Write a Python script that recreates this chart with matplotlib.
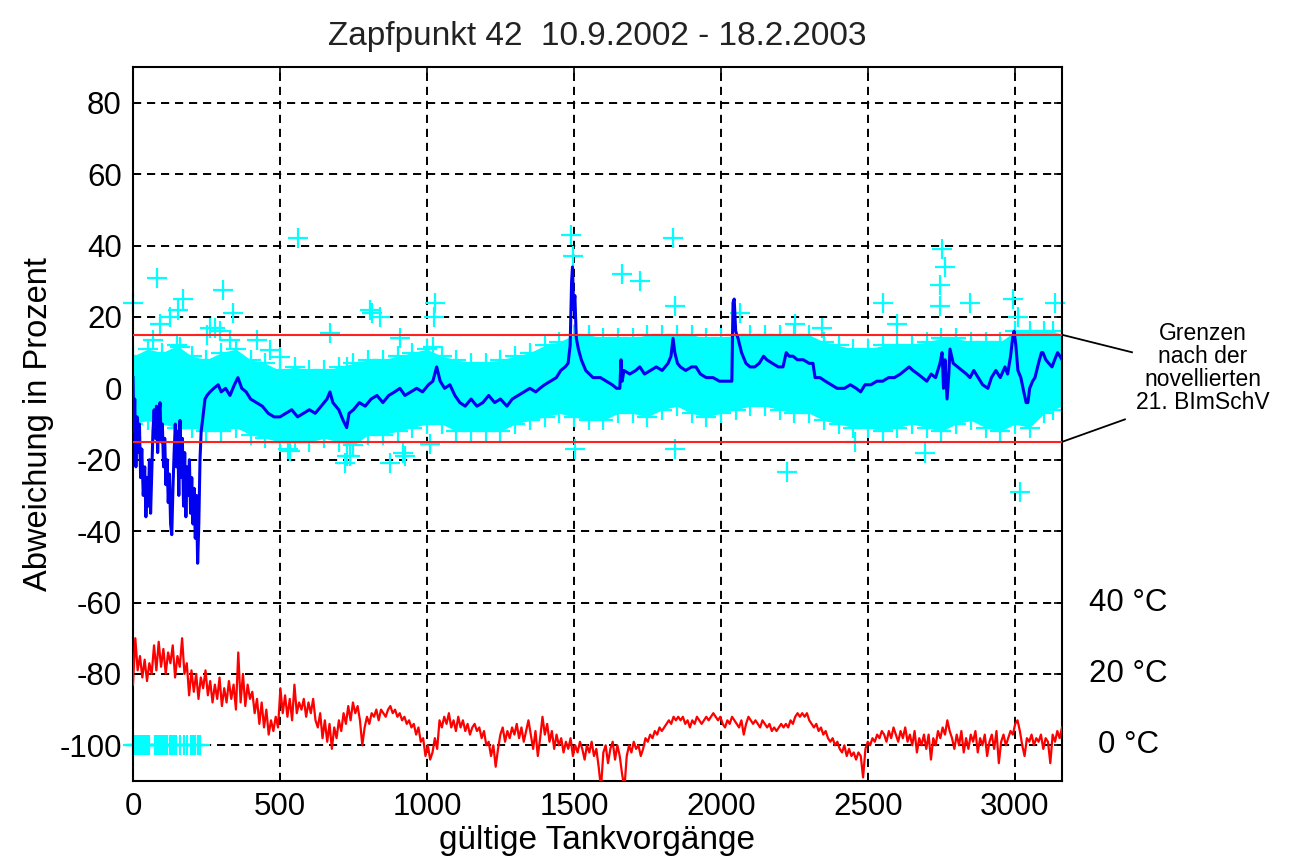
import numpy as np
import matplotlib
matplotlib.use("Agg")
import matplotlib.pyplot as plt

plt.rcParams['font.family'] = ['Liberation Sans', 'DejaVu Sans']
plt.rcParams['axes.unicode_minus'] = False

# running mean of the deviation (blue)
mean_x = [0, 3, 6, 10, 14, 18, 22, 26, 30, 35, 40, 44, 48, 52, 56, 60, 64, 68, 72, 76, 80, 84, 88, 92, 96,
          100, 104, 108, 112, 116, 120, 124, 128, 132, 136, 140, 144, 148, 152, 156, 160, 164, 168, 172, 176,
          180, 184, 188, 192, 196, 200, 204, 208, 212, 216, 220, 224, 228, 232, 238, 245, 252, 262, 275, 290,
          300, 315, 330, 345, 357, 370, 385, 400, 420, 440, 460, 480, 500, 520, 540, 560, 580, 600, 620, 640,
          660, 670, 680, 700, 715, 727, 735, 750, 770, 790, 810, 830, 850, 870, 890, 908, 925, 945, 965, 985,
          1005, 1020, 1033, 1045, 1060, 1078, 1095, 1112, 1130, 1150, 1170, 1190, 1210, 1230, 1250, 1272, 1290,
          1310, 1330, 1350, 1370, 1384, 1400, 1420, 1440, 1455, 1470, 1480, 1487, 1492, 1495, 1499, 1503, 1508,
          1515, 1525, 1540, 1565, 1590, 1610, 1630, 1645, 1656, 1660, 1664, 1670, 1690, 1710, 1724, 1740, 1760,
          1780, 1800, 1820, 1830, 1837, 1843, 1852, 1862, 1880, 1900, 1915, 1930, 1950, 1973, 1995, 2020, 2037,
          2041, 2045, 2050, 2058, 2070, 2085, 2099, 2115, 2130, 2145, 2156, 2175, 2195, 2211, 2222, 2232, 2245,
          2260, 2280, 2300, 2313, 2320, 2337, 2355, 2375, 2395, 2420, 2440, 2460, 2475, 2490, 2510, 2530, 2550,
          2570, 2590, 2610, 2625, 2640, 2653, 2670, 2685, 2700, 2715, 2730, 2745, 2752, 2757, 2762, 2769, 2775,
          2779, 2790, 2805, 2820, 2835, 2847, 2860, 2875, 2890, 2908, 2920, 2935, 2950, 2966, 2975, 2985, 2992,
          2997, 3003, 3010, 3020, 3030, 3038, 3044, 3050, 3060, 3068, 3080, 3090, 3095, 3105, 3115, 3126, 3135,
          3145, 3153, 3160]
mean_y = [3, -12, -3, -22, -8, -18, -10, -25, -17, -30, -22, -36, -25, -33, -20, -35, -24, -12, -6, -14, -5, -18,
          -8, -4, -15, -10, -22, -14, -27, -20, -32, -24, -38, -41, -28, -18, -10, -22, -12, -30, -9, -25, -14, -33,
          -18, -36, -22, -30, -20, -35, -25, -38, -28, -42, -30, -49, -38, -20, -12, -8, -3, -2, -1, 0, 1,
          -1, 0, -2, 1, 3, 0, -1, -3, -4, -5, -7, -8, -8, -7, -6, -8, -7, -6, -7, -5,
          -3, -1, -4, -6, -9, -11, -7, -6, -4, -5, -3, -2, -4, -2, -1, 0, -2, -1, 0, -1,
          1, 2, 6, 2, 0, 1, -2, -4, -5, -3, -5, -4, -2, -4, -3, -5, -3,
          -2, -1, 0, -1, 0, 1, 2, 3, 5, 6, 7, 12, 30, 34, 22, 26, 14,
          11, 8, 5, 3, 3, 2, 1, 0, 0, 8, 2, 5, 4, 5, 6, 4, 5,
          6, 5, 7, 9, 14, 10, 7, 6, 5, 6, 6, 4, 3, 3, 2, 2, 2,
          24, 25, 16, 14, 10, 7, 6, 6, 7, 9, 8, 7, 6, 6, 10, 9, 9,
          8, 8, 7, 7, 3, 3, 2, 1, 0, 0, 1, 0, -1, 1, 1, 2, 2,
          3, 3, 4, 5, 6, 5, 4, 3, 2, 4, 3, 7, 10, 0, 8, -3, 4,
          11, 7, 6, 5, 4, 3, 5, 3, 1, 0, 3, 5, 3, 6, 4, 9, 14,
          16, 12, 5, 3, -1, -4, -4, 0, 2, 3, 7, 10, 10, 8, 7, 6, 8,
          10, 9, 8]

# dense cloud of single values (cyan): upper / lower edge
band_x = [0, 50, 100, 150, 200, 250, 300, 350, 400, 450, 500, 550, 600, 650, 700, 750, 800, 850, 900, 950,
          1000, 1050, 1100, 1150, 1200, 1250, 1300, 1350, 1400, 1450, 1500, 1550, 1600, 1650, 1700, 1750,
          1800, 1850, 1900, 1950, 2000, 2050, 2100, 2150, 2200, 2250, 2300, 2350, 2400, 2450, 2500, 2550,
          2600, 2650, 2700, 2750, 2800, 2850, 2900, 2950, 3000, 3050, 3100, 3130, 3160]
band_hi = [9, 11, 10, 12, 9, 8, 10, 11, 8, 7, 5, 6, 5, 5, 6, 7, 8, 8, 9, 10,
           11, 9, 8, 7, 7, 8, 9, 10, 12, 13, 15, 15, 14, 14, 14, 15,
           15, 15, 15, 14, 14, 15, 15, 15, 15, 15, 15, 13, 12, 11, 11, 12,
           12, 12, 13, 14, 14, 13, 13, 13, 16, 16, 16, 16, 15]
band_lo = [-10, -9, -10, -11, -11, -12, -12, -11, -13, -14, -15, -15, -15, -14, -15, -16, -13, -13, -12, -11,
           -10, -10, -12, -12, -12, -12, -10, -9, -8, -7, -8, -9, -9, -7, -7, -8,
           -6, -5, -7, -8, -7, -6, -5, -5, -6, -7, -7, -9, -10, -11, -11, -12,
           -11, -10, -11, -12, -10, -9, -11, -12, -10, -11, -7, -6, -5]

# single outliers (cyan +)
out_x = [0, 82, 92, 126, 153, 170, 252, 279, 306, 340, 561, 813, 840, 1024, 1027, 1490, 1497, 1663, 1724,
         1837, 1844, 2065, 2252, 2343, 2551, 2599, 2745, 2745, 2752, 2762, 2847, 2993, 3010, 3136,
         68, 160, 262, 296, 330, 422, 466, 500, 670, 728, 806, 908, 1020,
         527, 534, 721, 728, 738, 874, 918, 925, 1010, 1503, 1844, 2224, 2456, 2694, 3017]
out_y = [24, 31, 18, 20, 22, 25, 15, 17, 27.5, 21, 42, 21, 20, 20, 24, 43, 37, 32, 30,
         42, 23, 21, 18, 17, 24, 18, 23, 29, 39, 34, 24, 25, 20, 24,
         13.5, 11.5, 17, 16, 13.5, 13.5, 10.7, 8.7, 15.4, 6, 22, 14, 11.5,
         -17, -17.5, -21, -19, -19, -21, -18, -19, -15.5, -17, -17, -23.5, -15, -18, -29]

# invalid fillings, drawn at -100 %
inval_x = [0, 6, 12, 18, 24, 30, 36, 42, 48, 54, 75, 80, 86, 92, 98, 104, 110, 115, 125, 130, 136,
           142, 148, 160, 172, 185, 196, 205, 212, 220, 228]

# temperature in degC (plotted at -100 % + T)
temp_c = [17, 30, 21, 25, 19, 24, 18, 23, 20, 28, 21, 29, 22, 27, 20, 26, 23, 28, 19, 25, 22, 30, 20, 23, 14,
          21, 15, 20, 13, 19, 16, 21, 14, 18, 12, 17, 13, 19, 11, 16, 12, 18, 13, 17, 10, 26, 12, 20, 11, 17,
          13, 15, 9, 13, 6, 12, 5, 10, 3, 7, 4, 8, 5, 16, 9, 14, 8, 13, 7, 17, 9, 12, 10, 13, 8, 12, 9, 13,
          7, 5, 9, 2, 7, 1, 6, -1, 5, 2, 7, 4, 9, 6, 11, 7, 12, 9, 11, 7, 0, 5, 8, 6, 9, 8, 10, 7, 10, 9,
          8, 10, 11, 9, 10, 8, 9, 7, 8, 6, 7, 5, 6, 3, 5, 1, 2, -3, 0, -4, -2, 2, -1, 7, 5, 8, 6, 9, 5, 7,
          4, 8, 5, 7, 4, 6, 3, 5, 6, 4, 5, 2, 4, 0, 1, -3, 0, -6, -1, 3, 5, 1, 4, 2, 5, 3, 6, 2, 5, 1, 4,
          7, 3, -1, 4, -3, 2, 8, 3, 6, 1, 4, -1, 3, 0, 2, -2, 1, -1, 2, -3, 0, -2, 1, -1, -4, 0, -2, 1, -3,
          -1, -6, -12, -2, 0, -5, -1, 1, -4, 0, -3, -8, -12, -3, 0, -2, 1, -1, 0, -3, -1, 2, 1, 3, 2, 4, 3,
          5, 4, 5, 6, 7, 6, 8, 7, 8, 7, 8, 6, 7, 5, 7, 6, 8, 7, 6, 7, 8, 7, 8, 9, 8, 7, 8, 6, 5, 7, 6, 8,
          7, 6, 5, 7, 3, 6, 8, 7, 6, 7, 6, 5, 7, 6, 5, 6, 4, 5, 4, 5, 6, 5, 6, 5, 7, 6, 8, 9, 8, 9, 8, 9,
          7, 6, 5, 6, 4, 5, 3, 4, 2, 1, 2, 0, 1, -1, -2, 0, -3, -1, -3, -2, -4, -2, -3, -9, -1, 1, 0, 2, 1,
          3, 2, 4, 3, 1, 4, 2, 5, 3, 1, 4, 2, 5, 1, 3, 0, 4, -2, 2, 0, 3, -1, 3, -4, 2, 0, 4, 2, 5, 3, 7,
          4, 2, -1, 3, 0, 4, -2, 2, -1, 3, 1, 4, -2, 2, 0, 3, -3, 1, 3, -1, 4, -5, 1, 3, 0, 2, 4, 3, 6, 7,
          4, 0, -3, 2, 1, 3, 0, 2, 1, 3, -1, 2, 1, -5, 3, 1, 4, 2, 5]
temp_x = np.linspace(0, 3160, len(temp_c))

limit = 15
temp_ticks = [0, 20, 40]

fig = plt.figure(figsize=(13.01, 8.65), dpi=100)
ax = fig.add_axes([0.1022, 0.0971, 0.7141, 0.8254])

ax.grid(True, color='black', linestyle=(0, (4.2, 3.0)), linewidth=1.4, zorder=0)
ax.set_axisbelow(True)

cyan = '#00ffff'
ax.fill_between(band_x, band_lo, band_hi, color=cyan, lw=0, zorder=2)
ax.plot(band_x, band_hi, '+', color=cyan, ms=14, mew=1.6, zorder=2)
ax.plot(band_x, band_lo, '+', color=cyan, ms=14, mew=1.6, zorder=2)
ax.plot(out_x, out_y, '+', color=cyan, ms=14, mew=1.6, zorder=2, clip_on=False)
ax.plot(inval_x, [-100] * len(inval_x), '+', color=cyan, ms=14, mew=1.6, zorder=2, clip_on=False)

ax.plot(mean_x, mean_y, color='#0000f0', lw=2.2, zorder=3)
ax.plot(temp_x, np.array(temp_c) - 100, color='#ff0000', lw=1.6, zorder=3)

ax.axhline(limit, color='#ff2020', lw=1.5, zorder=4)
ax.axhline(-limit, color='#ff2020', lw=1.5, zorder=4)

ax.set_xlim(0, 3160)
ax.set_ylim(-110, 90)
ax.set_xticks(range(0, 3001, 500))
ax.set_yticks(range(-100, 81, 20))
ax.tick_params(direction='in', length=6, width=1.2, labelsize=22.5, top=True, right=True, pad=8)
for s in ax.spines.values():
    s.set_linewidth(1.5)

ax.set_title('Zapfpunkt 42  10.9.2002 - 18.2.2003', fontsize=24, pad=16, color='#222222')
ax.set_xlabel('gültige Tankvorgänge', fontsize=24, labelpad=2)
ax.set_ylabel('Abweichung in Prozent', fontsize=23.5, labelpad=4)

# temperature scale labels on the right
for t in temp_ticks:
    ax.text(3385, t - 100, f'{t} °C', fontsize=22.5, ha='center', va='center', clip_on=False)

# pointer lines to the limit note
ax.plot([3160, 3398], [limit, 10.1], color='black', lw=1.3, clip_on=False)
ax.plot([3160, 3374], [-limit, -8.7], color='black', lw=1.3, clip_on=False)
fig.text(0.9247, 0.5746, 'Grenzen\nnach der\nnovellierten\n21. BImSchV', fontsize=16.5,
         ha='center', va='center', linespacing=1.0)

fig.savefig('out.png', dpi=100)
